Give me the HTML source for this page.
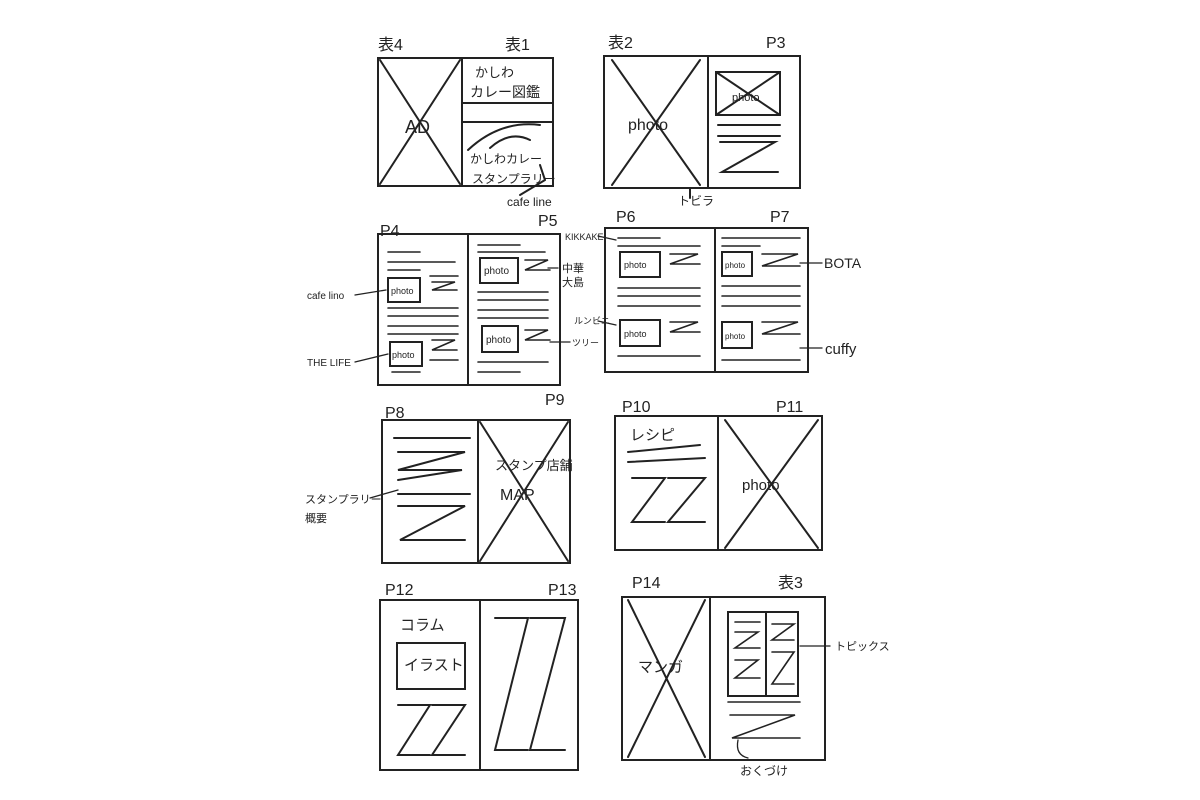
<!DOCTYPE html>
<html><head><meta charset="utf-8"><style>
html,body{margin:0;padding:0;background:#fff;}
svg{display:block}
text{font-family:"Liberation Sans","Noto Sans CJK JP",sans-serif;fill:#222}
</style></head><body>
<svg width="1200" height="800" viewBox="0 0 1200 800" xmlns="http://www.w3.org/2000/svg">
<g stroke="#222" stroke-width="2" fill="none" stroke-linecap="round">
<!-- Spread 1 -->
<rect x="378" y="58" width="175" height="128"/>
<line x1="462" y1="58" x2="462" y2="186"/>
<line x1="380" y1="60" x2="460" y2="184"/><line x1="460" y1="60" x2="380" y2="184"/>
<line x1="462" y1="103" x2="553" y2="103"/><line x1="462" y1="122" x2="553" y2="122"/>
<path d="M468 150 Q500 120 540 125"/><path d="M490 148 Q510 130 530 140"/>
<line x1="540" y1="165" x2="545" y2="180"/><line x1="545" y1="180" x2="520" y2="195"/>
<!-- Spread 2 -->
<rect x="604" y="56" width="196" height="132"/>
<line x1="708" y1="56" x2="708" y2="188"/>
<line x1="612" y1="60" x2="700" y2="185"/><line x1="700" y1="60" x2="612" y2="185"/>
<rect x="716" y="72" width="64" height="43"/>
<line x1="716" y1="72" x2="780" y2="115"/><line x1="780" y1="72" x2="716" y2="115"/>
<line x1="718" y1="125" x2="780" y2="125"/><line x1="718" y1="136" x2="780" y2="136"/>
<path d="M720 142 L775 142 L722 172 L778 172"/><line x1="690" y1="188" x2="690" y2="198"/>
<!-- P4/P5 -->
<rect x="378" y="234" width="182" height="151"/>
<line x1="468" y1="234" x2="468" y2="385"/>
<rect x="388" y="278" width="32" height="24"/><rect x="390" y="342" width="32" height="24"/>
<rect x="480" y="258" width="38" height="25"/><rect x="482" y="326" width="36" height="26"/>
<g stroke-width="1.6">
<line x1="388" y1="252" x2="420" y2="252"/><line x1="388" y1="262" x2="455" y2="262"/><line x1="388" y1="270" x2="420" y2="270"/>
<line x1="430" y1="276" x2="458" y2="276"/><path d="M432 282 L455 282 L432 290 L457 290"/>
<line x1="388" y1="308" x2="458" y2="308"/><line x1="388" y1="316" x2="458" y2="316"/><line x1="388" y1="326" x2="458" y2="326"/><line x1="388" y1="334" x2="458" y2="334"/>
<path d="M432 340 L455 340 L432 350 L457 350"/><line x1="430" y1="360" x2="458" y2="360"/><line x1="392" y1="372" x2="420" y2="372"/>
<line x1="478" y1="245" x2="520" y2="245"/><line x1="478" y1="252" x2="545" y2="252"/>
<path d="M525 260 L548 260 L525 270 L550 270"/><line x1="478" y1="292" x2="548" y2="292"/><line x1="478" y1="300" x2="548" y2="300"/><line x1="478" y1="310" x2="548" y2="310"/>
<line x1="478" y1="318" x2="548" y2="318"/><path d="M525 330 L548 330 L525 340 L550 340"/><line x1="478" y1="362" x2="548" y2="362"/><line x1="478" y1="372" x2="520" y2="372"/>
</g>
<!-- P6/P7 -->
<rect x="605" y="228" width="203" height="144"/>
<line x1="715" y1="228" x2="715" y2="372"/>
<rect x="620" y="252" width="40" height="25"/><rect x="620" y="320" width="40" height="26"/>
<rect x="722" y="252" width="30" height="24"/><rect x="722" y="322" width="30" height="26"/>
<g stroke-width="1.6">
<line x1="618" y1="238" x2="660" y2="238"/><line x1="618" y1="246" x2="700" y2="246"/><path d="M670 254 L698 254 L670 264 L700 264"/>
<line x1="618" y1="288" x2="700" y2="288"/><line x1="618" y1="296" x2="700" y2="296"/><line x1="618" y1="306" x2="700" y2="306"/>
<path d="M670 322 L698 322 L670 332 L700 332"/><line x1="618" y1="356" x2="700" y2="356"/>
<line x1="722" y1="238" x2="800" y2="238"/><line x1="722" y1="246" x2="760" y2="246"/><path d="M762 254 L798 254 L762 266 L800 266"/>
<line x1="722" y1="286" x2="800" y2="286"/><line x1="722" y1="296" x2="800" y2="296"/><line x1="722" y1="306" x2="800" y2="306"/>
<path d="M762 322 L798 322 L762 334 L800 334"/><line x1="722" y1="360" x2="800" y2="360"/>
</g>
<!-- P8/P9 -->
<rect x="382" y="420" width="188" height="143"/>
<line x1="478" y1="420" x2="478" y2="563"/>
<line x1="480" y1="422" x2="568" y2="561"/><line x1="568" y1="422" x2="480" y2="561"/>
<line x1="394" y1="438" x2="470" y2="438"/><path d="M398 452 L465 452 L398 470 L462 470 L398 480"/>
<line x1="398" y1="494" x2="470" y2="494"/><path d="M398 506 L465 506 L400 540 L465 540"/>
<!-- P10/P11 -->
<rect x="615" y="416" width="207" height="134"/>
<line x1="718" y1="416" x2="718" y2="550"/>
<line x1="725" y1="420" x2="818" y2="548"/><line x1="818" y1="420" x2="725" y2="548"/>
<line x1="628" y1="452" x2="700" y2="445"/><line x1="628" y1="462" x2="705" y2="458"/>
<path d="M632 478 L665 478 L632 522 L665 522"/><path d="M668 478 L705 478 L668 522 L705 522"/>
<!-- P12/P13 -->
<rect x="380" y="600" width="198" height="170"/>
<line x1="480" y1="600" x2="480" y2="770"/>
<rect x="397" y="643" width="68" height="46"/>
<path d="M398 705 L430 705 L398 755 L430 755"/><path d="M432 705 L465 705 L432 755 L465 755"/>
<path d="M495 618 L528 618 L495 750 L528 750"/><path d="M530 618 L565 618 L530 750 L565 750"/>
<!-- P14/表3 -->
<rect x="622" y="597" width="203" height="163"/>
<line x1="710" y1="597" x2="710" y2="760"/>
<line x1="628" y1="600" x2="705" y2="757"/><line x1="705" y1="600" x2="628" y2="757"/>
<rect x="728" y="612" width="70" height="84"/><line x1="766" y1="612" x2="766" y2="696"/>
<g stroke-width="1.6"><line x1="735" y1="622" x2="760" y2="622"/><path d="M735 632 L758 632 L735 648 L760 648"/><path d="M735 660 L758 660 L735 678 L760 678"/>
<path d="M772 624 L794 624 L772 640 L794 640"/><path d="M772 652 L794 652 L772 684 L794 684"/>
<line x1="728" y1="702" x2="800" y2="702"/><path d="M730 715 L795 715 L732 738 L800 738"/></g>
<!-- leader lines -->
<g stroke-width="1.3">
<line x1="355" y1="295" x2="386" y2="290"/><line x1="355" y1="362" x2="388" y2="354"/>
<line x1="558" y1="268" x2="548" y2="268"/><line x1="570" y1="342" x2="550" y2="342"/>
<line x1="598" y1="236" x2="616" y2="240"/><line x1="598" y1="321" x2="616" y2="325"/>
<line x1="800" y1="263" x2="822" y2="263"/><line x1="800" y1="348" x2="822" y2="348"/>
<line x1="370" y1="498" x2="398" y2="490"/><line x1="800" y1="646" x2="830" y2="646"/>
<path d="M738 740 Q735 755 748 758"/>
</g>
</g>
<g font-size="16">
<text x="378" y="50">表4</text><text x="505" y="50">表1</text>
<text x="475" y="77" font-size="13">かしわ</text><text x="470" y="97" font-size="14">カレー図鑑</text>
<text x="405" y="133" font-size="18">AD</text>
<text x="470" y="163" font-size="12">かしわカレー</text><text x="472" y="183" font-size="12">スタンプラリー</text>
<text x="507" y="206" font-size="12">cafe line</text>
<text x="608" y="48">表2</text><text x="766" y="48">P3</text>
<text x="628" y="130" font-size="16">photo</text><text x="732" y="101" font-size="11">photo</text>
<text x="678" y="205" font-size="12">トビラ</text>
<text x="380" y="236">P4</text><text x="538" y="226">P5</text>
<text x="616" y="222">P6</text><text x="770" y="222">P7</text>
<text x="391" y="294" font-size="9">photo</text><text x="392" y="358" font-size="9">photo</text>
<text x="484" y="274" font-size="10">photo</text><text x="486" y="343" font-size="10">photo</text>
<text x="624" y="268" font-size="9">photo</text><text x="624" y="337" font-size="9">photo</text>
<text x="725" y="268" font-size="8">photo</text><text x="725" y="339" font-size="8">photo</text>
<text x="307" y="299" font-size="10">cafe lino</text><text x="307" y="366" font-size="10">THE LIFE</text>
<text x="562" y="272" font-size="11">中華</text><text x="562" y="286" font-size="11">大島</text>
<text x="572" y="346" font-size="9">ツリー</text>
<text x="565" y="240" font-size="9">KIKKAKE</text><text x="574" y="324" font-size="9">ルンビニ</text>
<text x="824" y="268" font-size="14">BOTA</text><text x="825" y="354" font-size="15">cuffy</text>
<text x="385" y="418">P8</text><text x="545" y="405">P9</text>
<text x="622" y="412">P10</text><text x="776" y="412">P11</text>
<text x="495" y="470" font-size="13">スタンプ店舗</text><text x="500" y="500" font-size="16">MAP</text>
<text x="305" y="503" font-size="11">スタンプラリー</text><text x="305" y="522" font-size="11">概要</text>
<text x="630" y="440" font-size="15">レシピ</text><text x="742" y="490" font-size="15">photo</text>
<text x="385" y="595">P12</text><text x="548" y="595">P13</text>
<text x="632" y="588">P14</text><text x="778" y="588">表3</text>
<text x="400" y="630" font-size="15">コラム</text><text x="404" y="670" font-size="15">イラスト</text>
<text x="638" y="672" font-size="15">マンガ</text>
<text x="835" y="650" font-size="11">トピックス</text><text x="740" y="775" font-size="12">おくづけ</text>
</g>
</svg>
</body></html>
